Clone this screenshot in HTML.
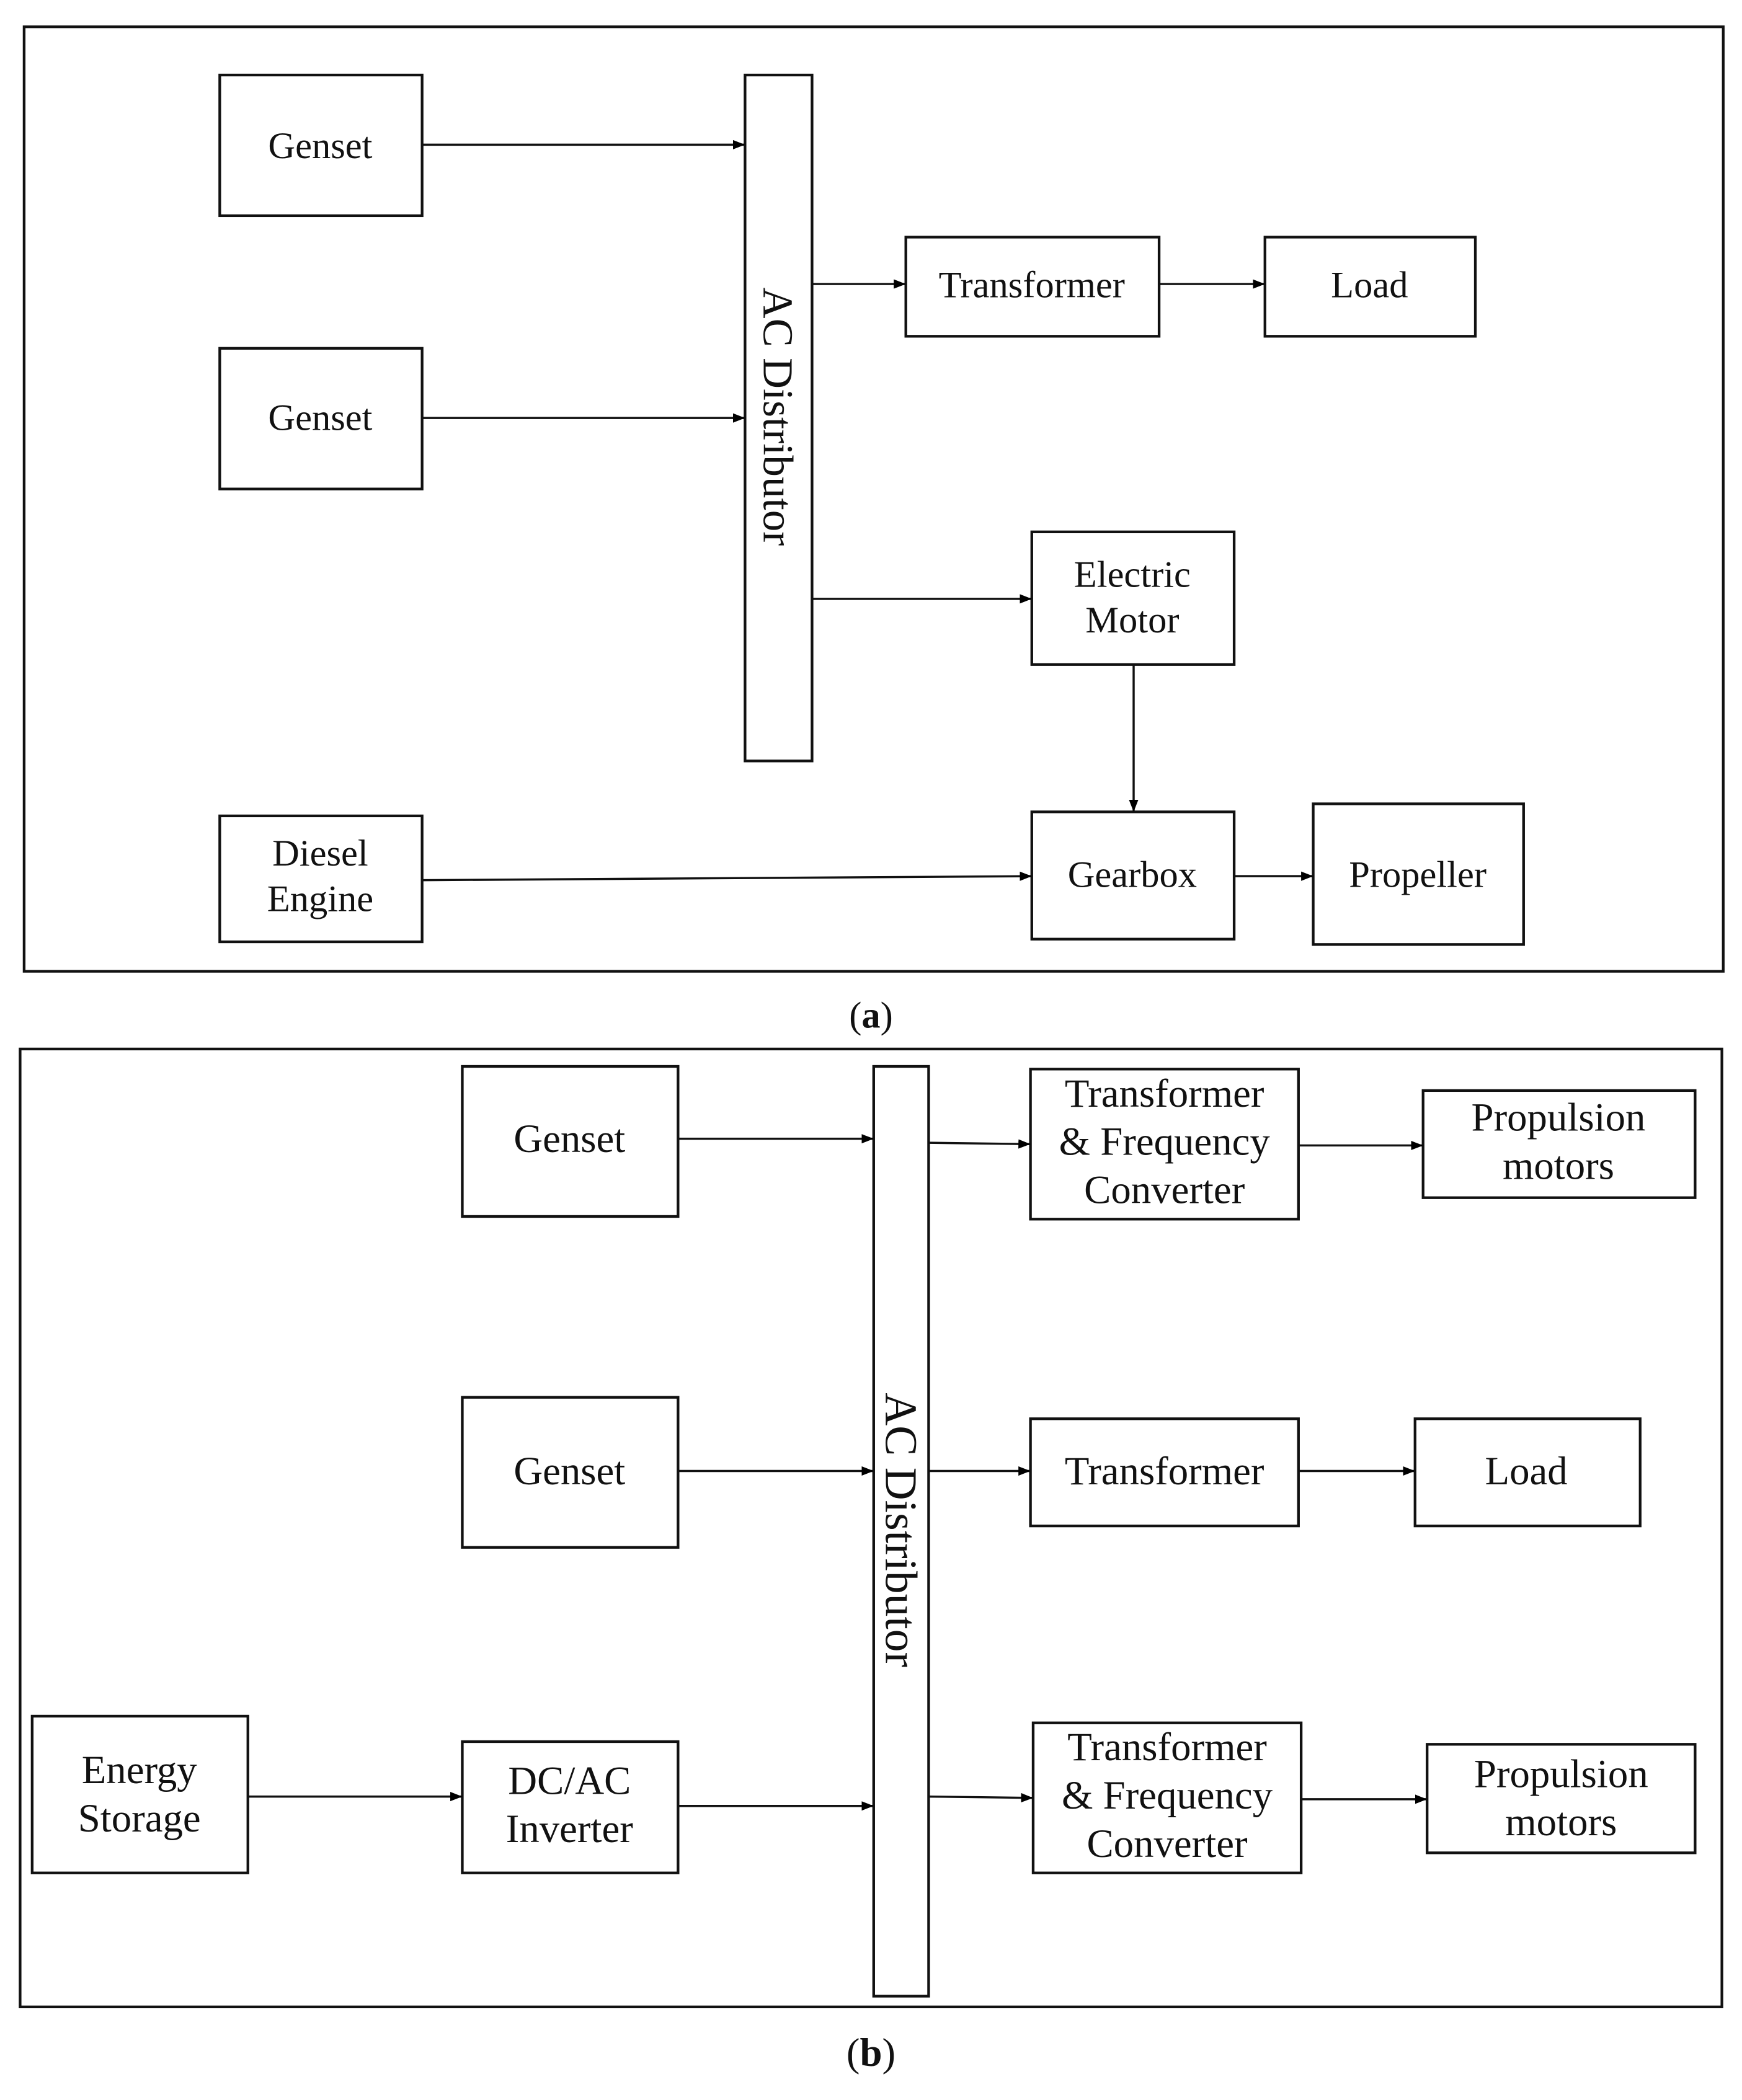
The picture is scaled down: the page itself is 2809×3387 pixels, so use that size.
<!DOCTYPE html>
<html><head><meta charset="utf-8"><style>
html,body{margin:0;padding:0;background:#fff;}
svg{display:block;}
text{font-family:"Liberation Serif",serif;fill:#111;}
</style></head><body>
<svg width="2809" height="3387" viewBox="0 0 1300 1567.5" preserveAspectRatio="none" xmlns="http://www.w3.org/2000/svg">
<defs><marker id="ah" markerWidth="10" markerHeight="8" refX="9" refY="4" orient="auto" markerUnits="userSpaceOnUse"><path d="M0,0.5 L9,4 L0,7.5 Z" fill="#000"/></marker></defs>
<g fill="none" stroke="#111" stroke-width="2">
<rect x="18" y="20" width="1268" height="705"/>
<rect x="164" y="56" width="151" height="105"/>
<rect x="164" y="260" width="151" height="105"/>
<rect x="164" y="609" width="151" height="94"/>
<rect x="556" y="56" width="50" height="512"/>
<rect x="676" y="177" width="189" height="74"/>
<rect x="944" y="177" width="157" height="74"/>
<rect x="770" y="397" width="151" height="99"/>
<rect x="770" y="606" width="151" height="95"/>
<rect x="980" y="600" width="157" height="105"/>
<rect x="15" y="783" width="1270" height="715"/>
<rect x="345" y="796" width="161" height="112"/>
<rect x="345" y="1043" width="161" height="112"/>
<rect x="24" y="1281" width="161" height="117"/>
<rect x="345" y="1300" width="161" height="98"/>
<rect x="652" y="796" width="41" height="694"/>
<rect x="769" y="798" width="200" height="112"/>
<rect x="1062" y="814" width="203" height="80"/>
<rect x="769" y="1059" width="200" height="80"/>
<rect x="1056" y="1059" width="168" height="80"/>
<rect x="771" y="1286" width="200" height="112"/>
<rect x="1065" y="1302" width="200" height="81"/>
</g>
<g stroke="#111" stroke-width="1.6" marker-end="url(#ah)">
<line x1="315" y1="108" x2="556" y2="108"/>
<line x1="315" y1="312" x2="556" y2="312"/>
<line x1="606" y1="212" x2="676" y2="212"/>
<line x1="865" y1="212" x2="944" y2="212"/>
<line x1="606" y1="447" x2="770" y2="447"/>
<line x1="846" y1="496" x2="846" y2="606"/>
<line x1="315" y1="657" x2="770" y2="654"/>
<line x1="921" y1="654" x2="980" y2="654"/>
<line x1="506" y1="850" x2="652" y2="850"/>
<line x1="693" y1="853" x2="769" y2="854"/>
<line x1="969" y1="855" x2="1062" y2="855"/>
<line x1="506" y1="1098" x2="652" y2="1098"/>
<line x1="693" y1="1098" x2="769" y2="1098"/>
<line x1="969" y1="1098" x2="1056" y2="1098"/>
<line x1="185" y1="1341" x2="345" y2="1341"/>
<line x1="506" y1="1348" x2="652" y2="1348"/>
<line x1="693" y1="1341" x2="771" y2="1342"/>
<line x1="971" y1="1343" x2="1065" y2="1343"/>
</g>
<g font-size="28" text-anchor="middle">
<text x="239" y="118">Genset</text>
<text x="239" y="321">Genset</text>
<text x="239" y="646">Diesel</text>
<text x="239" y="680">Engine</text>
<text x="770" y="222">Transformer</text>
<text x="1022" y="222">Load</text>
<text x="845" y="438">Electric</text>
<text x="845" y="472">Motor</text>
<text x="845" y="662">Gearbox</text>
<text x="1058" y="662">Propeller</text>
<text font-size="32" transform="translate(570,311) rotate(90)">AC Distributor</text>
<text x="650" y="767">(<tspan font-weight="bold">a</tspan>)</text>
</g>
<g font-size="30" text-anchor="middle">
<text x="425" y="860">Genset</text>
<text x="425" y="1108">Genset</text>
<text x="104" y="1331">Energy</text>
<text x="104" y="1367">Storage</text>
<text x="425" y="1339">DC/AC</text>
<text x="425" y="1375">Inverter</text>
<text x="869" y="826">Transformer</text>
<text x="869" y="862">&amp; Frequency</text>
<text x="869" y="898">Converter</text>
<text x="1163" y="844">Propulsion</text>
<text x="1163" y="880">motors</text>
<text x="869" y="1108">Transformer</text>
<text x="1139" y="1108">Load</text>
<text x="871" y="1314">Transformer</text>
<text x="871" y="1350">&amp; Frequency</text>
<text x="871" y="1386">Converter</text>
<text x="1165" y="1334">Propulsion</text>
<text x="1165" y="1370">motors</text>
<text font-size="34" transform="translate(661,1142) rotate(90)">AC Distributor</text>
<text x="650" y="1542">(<tspan font-weight="bold">b</tspan>)</text>
</g>
</svg>
</body></html>
